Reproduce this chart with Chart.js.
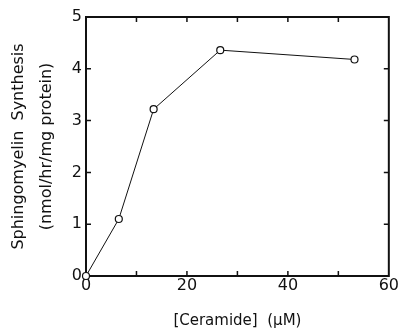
<!DOCTYPE html>
<html>
<head>
<meta charset="utf-8">
<script src="https://cdn.jsdelivr.net/npm/chart.js@4.4.0/dist/chart.umd.min.js"></script>
<style>
  body { margin: 0; background: #fff; }
  #wrap { width: 399px; height: 331px; }
</style>
</head>
<body>
<div id="wrap"><canvas id="chart"></canvas></div>
<script>
// data
var ceramide = [0, 6.5, 13.4, 26.6, 53.2];
var synthesis = [0, 1.1, 3.22, 4.36, 4.18];
var xTicks = [0, 10, 20, 30, 40, 50, 60];
var yTicks = [0, 1, 2, 3, 4, 5];

var ink = '#111';

// frame with inward tick marks on all four sides
var frame = {
  id: 'frame',
  beforeDatasetsDraw: function(chart) {
    var ctx = chart.ctx, a = chart.chartArea;
    var xs = chart.scales.x, ys = chart.scales.y;
    ctx.save();
    ctx.strokeStyle = ink;
    ctx.lineWidth = 2;
    ctx.strokeRect(a.left, a.top, a.right - a.left, a.bottom - a.top);
    ctx.lineWidth = 1.5;
    ctx.beginPath();
    xTicks.forEach(function(v) {
      if (v == 0 || v == 60) return;
      var px = xs.getPixelForValue(v);
      ctx.moveTo(px, a.bottom); ctx.lineTo(px, a.bottom - 5);
      ctx.moveTo(px, a.top); ctx.lineTo(px, a.top + 5);
    });
    yTicks.forEach(function(v) {
      if (v == 0 || v == 5) return;
      var py = ys.getPixelForValue(v);
      ctx.moveTo(a.left, py); ctx.lineTo(a.left + 5, py);
      ctx.moveTo(a.right, py); ctx.lineTo(a.right - 5, py);
    });
    ctx.stroke();
    ctx.restore();
  }
};

new Chart(document.getElementById('chart'), {
  type: 'scatter',
  data: {
    datasets: [{
      data: ceramide.map(function(x, i) { return { x: x, y: synthesis[i] }; }),
      showLine: true,
      borderColor: ink,
      borderWidth: 1,
      backgroundColor: '#fff',
      pointBackgroundColor: '#fff',
      pointBorderColor: ink,
      pointBorderWidth: 1.2,
      pointRadius: 3.5,
      clip: false
    }]
  },
  options: {
    responsive: true,
    maintainAspectRatio: false,
    animation: false,
    layout: { padding: { top: 17, right: 9, left: 0, bottom: 0 } },
    plugins: { legend: { display: false }, tooltip: { enabled: false } },
    scales: {
      x: {
        type: 'linear', min: 0, max: 60,
        grid: { display: false, drawTicks: false },
        border: { display: false },
        afterBuildTicks: function(s) { s.ticks = xTicks.map(function(v) { return { value: v }; }); },
        afterFit: function(s) { s.height = 55; },
        ticks: {
          color: ink, padding: 0, maxRotation: 0, autoSkip: false,
          font: { family: 'DejaVu Sans', size: 16 },
          callback: function(v) { return v % 20 == 0 ? v : ''; }
        },
        title: {
          display: true, text: '[Ceramide]  (\u00b5M)', color: ink,
          font: { family: 'DejaVu Sans', size: 15 },
          padding: { top: 0, bottom: 1 }
        }
      },
      y: {
        min: 0, max: 5,
        grid: { display: false, drawTicks: false },
        border: { display: false },
        afterBuildTicks: function(s) { s.ticks = yTicks.map(function(v) { return { value: v }; }); },
        afterFit: function(s) { s.width = 86; },
        ticks: {
          color: ink, padding: 4,
          font: { family: 'DejaVu Sans', size: 16 }
        },
        title: {
          display: true,
          text: ['Sphingomyelin  Synthesis', '(nmol/hr/mg protein)'],
          color: ink,
          font: { family: 'DejaVu Sans', size: 16, lineHeight: 1.75 },
          padding: { top: 5, bottom: 0 }
        }
      }
    }
  },
  plugins: [frame]
});
</script>
</body>
</html>
